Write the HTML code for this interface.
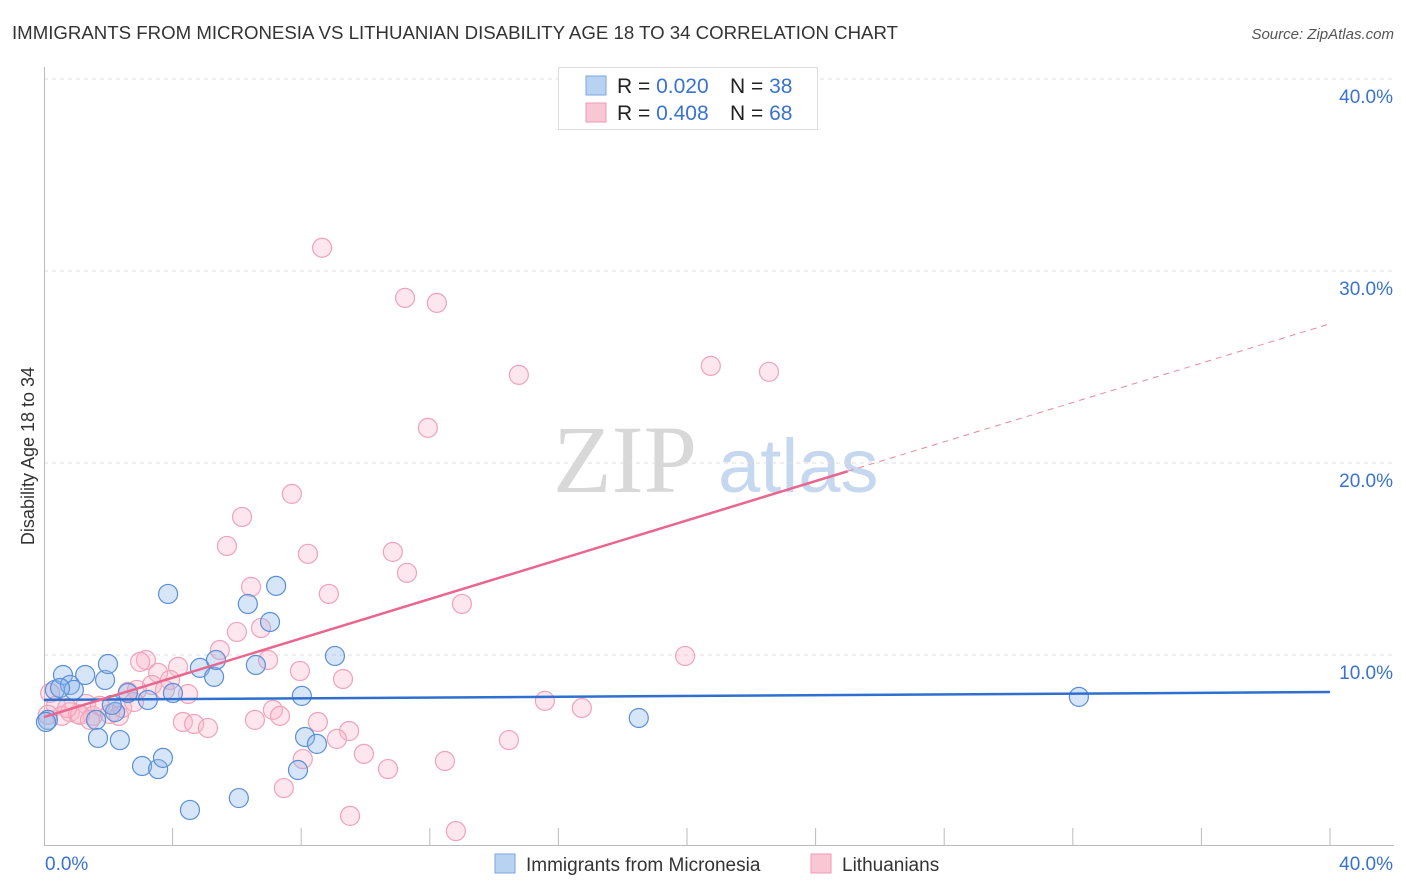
<!DOCTYPE html>
<html><head><meta charset="utf-8"><style>
body{margin:0;background:#fff;font-family:"Liberation Sans",sans-serif;}
svg{display:block}
</style></head><body>
<svg id="chart" width="1406" height="892" xmlns="http://www.w3.org/2000/svg">
<text x="12" y="39" font-size="18" fill="#333" textLength="886" lengthAdjust="spacingAndGlyphs">IMMIGRANTS FROM MICRONESIA VS LITHUANIAN DISABILITY AGE 18 TO 34 CORRELATION CHART</text>
<text x="1394" y="39" font-size="15" fill="#555" font-style="italic" text-anchor="end">Source: ZipAtlas.com</text>
<g>
<text x="553" y="492" font-size="96" font-family="Liberation Serif,serif" fill="#d8d8d8">ZIP</text>
<text x="718" y="492" font-size="76" fill="#c6d8ef">atlas</text>
</g>
<g id="grid"></g>
<g id="axes"></g>
<g id="marks"></g>
<g id="trends"></g>
<text x="34" y="456" font-size="18" fill="#333" text-anchor="middle" transform="rotate(-90 34 456)">Disability Age 18 to 34</text>
<g>
<rect x="558.5" y="67.5" width="259" height="62" fill="#fff" stroke="#ddd"/>
<rect x="586" y="76" width="20" height="19" fill="#b8d2f2" stroke="#7aa6e0"/>
<rect x="586" y="103" width="20" height="19" fill="#f9c6d4" stroke="#ee9ab3"/>
<text x="617" y="93" font-size="21" fill="#222">R = <tspan fill="#3a72d0">0.020</tspan><tspan x="730">N = </tspan><tspan fill="#3a72d0">38</tspan></text>
<text x="617" y="120" font-size="21" fill="#222">R = <tspan fill="#3a72d0">0.408</tspan><tspan x="730">N = </tspan><tspan fill="#3a72d0">68</tspan></text>
</g>
<g>
<rect x="495" y="854" width="20" height="19" fill="#b8d2f2" stroke="#7aa6e0"/>
<text x="526" y="871" font-size="19" fill="#333">Immigrants from Micronesia</text>
<rect x="811" y="854" width="20" height="19" fill="#f9c6d4" stroke="#ee9ab3"/>
<text x="842" y="871" font-size="19" fill="#333">Lithuanians</text>
</g>
</svg>
<script>
const blueX=[0.12,0.34,0.59,0.81,0.93,1.28,1.62,1.68,1.90,1.99,2.21,2.36,2.61,3.05,3.23,3.55,3.70,3.86,4.01,4.54,4.85,5.29,5.35,6.06,6.34,6.59,7.03,7.22,7.90,8.02,8.12,8.49,9.05,18.50,32.19,0.06,0.50,2.11];
const blueY=[6.62,8.18,8.96,8.44,8.18,8.96,6.62,5.68,8.70,9.53,7.03,5.57,8.02,4.22,7.66,4.06,4.64,13.18,8.02,1.93,9.33,8.86,9.74,2.55,12.66,9.48,11.72,13.60,4.01,7.87,5.73,5.37,9.95,6.72,7.82,6.51,8.28,7.40];
const pinkX=[8.65,11.23,12.22,14.77,20.74,22.55,11.94,7.71,6.16,5.69,8.21,10.85,11.29,8.86,6.44,13.00,6.00,6.75,5.47,19.94,3.17,2.99,4.17,3.55,6.97,7.96,9.30,3.36,3.92,4.48,2.61,2.89,15.58,16.73,7.12,7.34,6.56,8.52,9.49,4.32,4.67,5.10,9.11,14.46,9.95,12.47,10.70,8.05,7.46,9.52,12.81,0.19,0.37,0.56,0.81,1.06,1.31,1.52,1.74,2.05,2.33,2.43,2.80,3.76,0.12,1.12,0.72,1.43];
const pinkY=[31.21,28.60,28.34,24.59,25.06,24.75,21.83,18.39,17.19,15.68,15.27,15.37,14.28,13.18,13.55,12.66,11.20,11.41,10.26,9.95,9.74,9.64,9.38,9.07,9.74,9.17,8.75,8.44,8.70,7.97,8.08,8.18,7.61,7.24,7.14,6.83,6.62,6.51,6.04,6.51,6.41,6.20,5.63,5.57,4.85,4.48,4.06,4.58,3.07,1.62,0.83,8.02,7.35,6.83,7.03,6.93,7.45,6.83,7.35,6.93,6.83,7.24,7.55,8.18,6.88,6.88,7.24,6.62];
const blueTrend=[7.66,8.07];      // value at x=0 and x=40
const pinkTrend=[6.77,27.25];     // value at x=0 and x=40
const pinkSolidEnd=25;
const yTicks=[10,20,30,40];
const yTickLabels=["10.0%","20.0%","30.0%","40.0%"];
const xTicks=[4,8,12,16,20,24,28,32,36,40];

const NS="http://www.w3.org/2000/svg";
const X0=44,X1=1330,Y0=847,PPU=19.2;
const sx=v=>X0+(X1-X0)*v/40;
const sy=v=>Y0-v*PPU;
function mk(tag,attrs,parent){const e=document.createElementNS(NS,tag);for(const k in attrs)e.setAttribute(k,attrs[k]);parent.appendChild(e);return e;}
const grid=document.getElementById('grid'),axes=document.getElementById('axes'),marks=document.getElementById('marks'),trends=document.getElementById('trends');
yTicks.forEach((t,i)=>{
  const l=mk('line',{x1:X0,x2:1394,y1:sy(t),y2:sy(t),stroke:'#ddd','stroke-dasharray':'4,4'},grid);
  
  
  const tx=mk('text',{x:1393,y:sy(t)+24,'font-size':19,fill:'#3a72d0','text-anchor':'end'},axes);
  tx.textContent=yTickLabels[i];
  
  
});
const la=mk('line',{x1:44.5,x2:44.5,y1:67,y2:846,stroke:'#bbb'},axes);


const lb=mk('line',{x1:44,x2:1394,y1:845.5,y2:845.5,stroke:'#bbb'},axes);


xTicks.forEach(t=>{
  const l=mk('line',{x1:sx(t),x2:sx(t),y1:828,y2:845,stroke:'#bbb'},axes);
  
  
});
const xl0=mk('text',{x:45,y:870,'font-size':19,fill:'#3a72d0'},axes);xl0.textContent='0.0%';


const xl1=mk('text',{x:1393,y:870,'font-size':19,fill:'#3a72d0','text-anchor':'end'},axes);xl1.textContent='40.0%';



pinkX.forEach((v,i)=>{
  const c=mk('circle',{cx:sx(v),cy:sy(pinkY[i]),r:9.5,fill:'rgba(248,182,202,0.35)',stroke:'#f0a2ba','stroke-width':1.2},marks);
  
  
});
blueX.forEach((v,i)=>{
  const c=mk('circle',{cx:sx(v),cy:sy(blueY[i]),r:9.5,fill:'rgba(140,180,235,0.35)',stroke:'#5a8fd8','stroke-width':1.2},marks);
  
  
});
const pv=x=>pinkTrend[0]+(pinkTrend[1]-pinkTrend[0])*x/40;
const bt=mk('line',{x1:sx(0),y1:sy(blueTrend[0]),x2:sx(40),y2:sy(blueTrend[1]),stroke:'#2f6fd0','stroke-width':2.5},trends);


const ps=mk('line',{x1:sx(0),y1:sy(pv(0)),x2:sx(pinkSolidEnd),y2:sy(pv(pinkSolidEnd)),stroke:'#e9668f','stroke-width':2.5},trends);


const pd=mk('line',{x1:sx(pinkSolidEnd),y1:sy(pv(pinkSolidEnd)),x2:sx(40),y2:sy(pv(40)),stroke:'#e9889f','stroke-width':1,'stroke-dasharray':'6,5'},trends);


</script>
</body></html>
